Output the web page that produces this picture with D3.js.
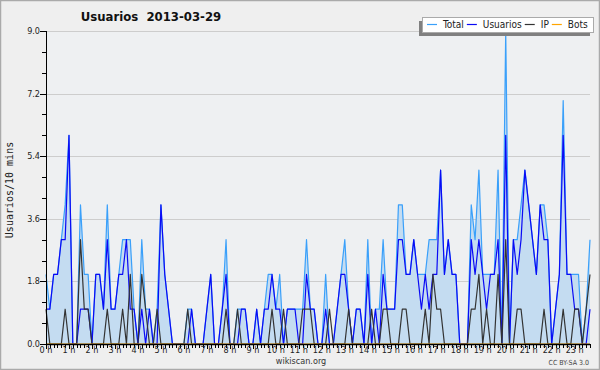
<!DOCTYPE html>
<html>
<head>
<meta charset="utf-8">
<script src="https://cdn.jsdelivr.net/npm/d3@7"></script>
<style>
html, body { margin: 0; padding: 0; background: #fff; }
svg { display: block; font-family: "DejaVu Sans Condensed", "DejaVu Sans", sans-serif; font-stretch: condensed; }
</style>
</head>
<body>
<svg id="chart" width="600" height="370"></svg>
<script>
/* Usuarios per 10 min, 2013-03-29 (144 slots) */

const users = [
  1,1,2,2,3,3, 6,0,0,1,1,1, 0,2,2,1,3,1, 1,2,2,3,1,1,
  0,1,0,1,0,0, 4,2,1,0,0,0, 0,0,1,0,0,0, 1,2,0,0,1,2,
  0,0,0,1,1,0, 0,1,0,1,1,2, 1,1,0,1,1,1, 0,0,2,1,1,0,
  0,1,0,0,1,2, 2,1,0,1,1,0, 2,0,1,0,2,1, 1,1,3,3,2,2,
  3,2,1,2,1,2, 2,5,2,3,2,2, 0,0,0,3,2,3, 2,1,2,2,3,0,
  6,0,3,2,3,5, 4,3,2,4,3,3, 0,1,2,6,2,2, 1,1,0,0,1
];

const ip = [
  1,0,0,0,0,1, 0,0,0,3,1,1, 0,0,0,0,1,0, 0,0,1,0,2,0,
  0,2,1,0,0,1, 0,0,0,0,0,0, 0,1,0,0,0,0, 0,0,0,0,0,1,
  0,0,1,0,0,0, 0,0,0,0,0,1, 0,0,1,0,0,0, 0,1,1,1,0,0,
  0,0,1,0,0,0, 0,1,0,0,0,0, 0,1,0,0,1,1, 0,0,0,1,1,0,
  0,0,0,1,0,2, 1,1,0,0,0,0, 0,0,0,1,1,2, 0,1,0,0,2,0,
  3,0,0,1,1,0, 0,0,0,0,1,0, 0,0,0,1,0,0, 1,1,0,1,2
];

const total = [
  2,1,2,2,3,4, 6,0,0,4,2,2, 0,2,2,1,4,1, 1,2,3,3,3,1,
  0,3,1,1,0,1, 4,2,1,0,0,0, 0,1,1,0,0,0, 1,2,0,0,1,3,
  0,0,1,1,1,0, 0,1,0,1,2,2, 1,2,0,1,1,1, 1,1,3,1,1,0,
  0,2,0,0,1,2, 3,1,0,1,1,0, 3,0,1,1,3,1, 1,1,4,4,2,2,
  3,2,2,2,3,3, 3,5,2,3,2,2, 0,0,0,4,3,5, 2,2,2,2,5,0,
  9,0,3,3,4,5, 4,3,2,4,4,3, 0,1,2,7,2,2, 2,2,0,1,3
];

const bots = [
  0,0,0,0,0,0, 0,0,0,0,0,0, 0,0,0,0,0,0, 0,0,0,0,0,0,
  0,0,0,0,0,0, 0,0,0,0,0,0, 0,0,0,0,0,0, 0,0,0,0,0,0,
  0,0,0,0,0,0, 0,0,0,0,0,0, 0,0,0,0,0,0, 0,0,0,0,0,0,
  0,0,0,0,0,0, 0,0,0,0,0,0, 0,0,0,0,0,0, 0,0,0,0,0,0,
  0,0,0,0,0,0, 0,0,0,0,0,0, 0,0,0,0,0,0, 0,0,0,0,0,0,
  0,0,0,0,0,0, 0,0,0,0,0,0, 0,0,0,0,0,0, 0,0,0,0,0
];

const hourLabels = [
  "0 h","1 h","2 h","3 h","4 h","5 h","6 h","7 h","8 h","9 h","10 h","11 h",
  "12 h","13 h","14 h","15 h","16 h","17 h","18 h","19 h","20 h","21 h","22 h","23 h"
];

const yTicks = [0, 1.8, 3.6, 5.4, 7.2, 9.0];

const seriesNames = ["Total", "Usuarios", "IP", "Bots"];
const seriesColors = ["#3aa0fa", "#0a0af5", "#333333", "#ffa500"];

const SLOTS_PER_HOUR = 6;
const M = { left: 46, right: 590, top: 31, bottom: 344 };

const svg = d3.select("#chart");

// page background + frame
svg.append("rect").attr("x", 0.5).attr("y", 0.5).attr("width", 599).attr("height", 369)
    .attr("fill", "#efefef").attr("stroke", "#aaaaaa").attr("stroke-width", 1.5);

svg.append("rect")
    .attr("x", M.left).attr("y", M.top)
    .attr("width", M.right - M.left).attr("height", M.bottom - M.top)
    .attr("fill", "#eef0f2");

const x = d3.scaleLinear().domain([0, total.length - 1]).range([M.left, M.right]);
const y = d3.scaleLinear().domain([0, 9]).range([M.bottom, M.top]);

// grid
svg.append("g").selectAll("line").data(yTicks.slice(1)).enter().append("line")
    .attr("x1", M.left).attr("x2", M.right)
    .attr("y1", d => Math.round(y(d)) + 0.5).attr("y2", d => Math.round(y(d)) + 0.5)
    .attr("stroke", "#cdcdcd").attr("stroke-width", 1);

// Total area
svg.append("path").datum(total)
    .attr("fill", "#c4dcf1")
    .attr("d", d3.area().x((d, i) => x(i)).y0(y(0)).y1(d => y(d)));

const line = d3.line().x((d, i) => x(i)).y(d => y(d));
[total, users, ip, bots].forEach((s, k) => {
    svg.append("path").datum(s)
        .attr("fill", "none")
        .attr("stroke", seriesColors[k])
        .attr("stroke-width", 1.2)
        .attr("stroke-linejoin", "round")
        .attr("d", line);
});

// y axis
const yAxis = svg.append("g").attr("transform", `translate(${M.left},0)`);
yAxis.append("line").attr("x1", 0.5).attr("x2", 0.5).attr("y1", M.top).attr("y2", M.bottom).attr("stroke", "#000");
const yMinor = d3.range(0, 9.001, 0.6);
yAxis.selectAll(".ymin").data(yMinor).enter().append("line")
    .attr("x1", -4).attr("x2", 0)
    .attr("y1", d => Math.round(y(d)) + 0.5).attr("y2", d => Math.round(y(d)) + 0.5)
    .attr("stroke", "#000");
yAxis.selectAll(".ymaj").data(yTicks).enter().append("line")
    .attr("x1", -6).attr("x2", 0)
    .attr("y1", d => Math.round(y(d)) + 0.5).attr("y2", d => Math.round(y(d)) + 0.5)
    .attr("stroke", "#000");
yAxis.selectAll("text").data(yTicks).enter().append("text")
    .attr("x", -6).attr("y", d => y(d) + 3)
    .attr("text-anchor", "end")
    .attr("font-size", "9px").attr("fill", "#222")
    .text(d => d.toFixed(1));

// x axis
const xAxis = svg.append("g");
xAxis.append("line").attr("x1", M.left).attr("x2", M.right)
    .attr("y1", M.bottom + 0.5).attr("y2", M.bottom + 0.5)
    .attr("stroke", "#000").attr("stroke-width", 1.6);
xAxis.selectAll(".xmin").data(d3.range(total.length)).enter().append("line")
    .attr("x1", d => Math.round(x(d)) + 0.5).attr("x2", d => Math.round(x(d)) + 0.5)
    .attr("y1", M.bottom).attr("y2", d => M.bottom + (d % SLOTS_PER_HOUR === 0 ? 5 : 4))
    .attr("stroke", "#000");
xAxis.selectAll("text").data(hourLabels).enter().append("text")
    .attr("x", (d, h) => x(h * SLOTS_PER_HOUR))
    .attr("y", 353)
    .attr("text-anchor", "middle")
    .attr("font-size", "9px").attr("fill", "#222")
    .text(d => d);

// y label
svg.append("text")
    .attr("transform", "translate(13,190) rotate(-90)")
    .attr("text-anchor", "middle")
    .attr("font-family", "'DejaVu Sans Mono', monospace")
    .attr("font-stretch", "normal")
    .attr("font-size", "10px").attr("fill", "#222")
    .text("Usuarios/10 mins");

// title
svg.append("text")
    .attr("x", 151).attr("y", 21)
    .attr("text-anchor", "middle")
    .attr("font-size", "13px").attr("font-weight", "bold").attr("fill", "#111")
    .attr("xml:space", "preserve")
    .text("Usuarios  2013-03-29");

// footer
svg.append("text").attr("x", 301).attr("y", 364)
    .attr("text-anchor", "middle").attr("font-size", "9px").attr("fill", "#333")
    .text("wikiscan.org");
svg.append("text").attr("x", 589).attr("y", 365)
    .attr("text-anchor", "end").attr("font-size", "7px").attr("fill", "#444")
    .text("CC BY-SA 3.0");

// legend
const lg = svg.append("g");
const lgBox = { x: 422, y: 17, w: 171, h: 15 };
lg.append("rect").attr("x", lgBox.x - 3).attr("y", lgBox.y + 4)
    .attr("width", lgBox.w).attr("height", lgBox.h).attr("fill", "#808080");
lg.append("rect").attr("x", lgBox.x + 0.5).attr("y", lgBox.y + 0.5)
    .attr("width", lgBox.w).attr("height", lgBox.h)
    .attr("fill", "#fff").attr("stroke", "#aaa");
let cx = lgBox.x + 5;
seriesNames.forEach((name, k) => {
    lg.append("line").attr("x1", cx).attr("x2", cx + 10)
        .attr("y1", lgBox.y + 7.5).attr("y2", lgBox.y + 7.5)
        .attr("stroke", seriesColors[k]).attr("stroke-width", 1.2);
    const t = lg.append("text").attr("x", cx + 16).attr("y", lgBox.y + 11)
        .attr("font-size", "10px").attr("fill", "#222").text(name);
    cx += 16 + t.node().getComputedTextLength() + 3;
});
</script>
</body>
</html>
